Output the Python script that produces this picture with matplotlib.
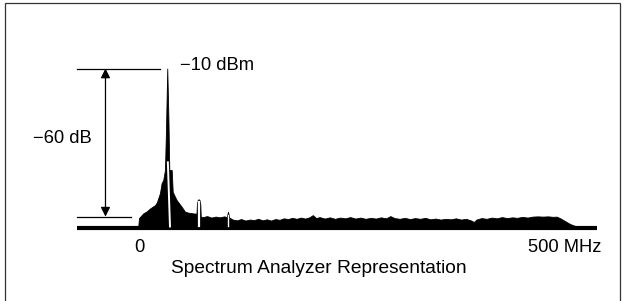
import matplotlib
matplotlib.use("Agg")
from matplotlib import pyplot as plt
from matplotlib.patches import Rectangle

plt.rcParams['font.family'] = ['Liberation Sans Narrow', 'Liberation Sans', 'DejaVu Sans']

# spectrum trace (MHz, dBm)
freq = [-0.8, 0, 5, 9, 13, 16, 19, 21, 22.7, 24.6, 26.6, 28.5, 30.5, 31.7, 33.2, 34.6, 35.6,
        38.4, 39.6, 44.2, 50.1, 54, 58, 63.7, 67.5, 68, 69, 70, 71, 72, 72.5,
        75, 80, 85, 90, 95, 100, 103, 104.5, 106, 110, 115, 120, 125, 130, 135, 140,
        145, 150, 155, 160, 165, 170, 175, 180, 185, 190, 195, 200, 204, 208, 212,
        218, 224, 230, 236, 242, 248, 254, 260, 266, 272, 278, 284, 290, 295, 300,
        306, 312, 318, 324, 330, 336, 342, 348, 354, 360, 366, 372, 378, 384, 390,
        393, 396, 402, 408, 414, 420, 426, 432, 438, 444, 450, 456, 462, 468, 474,
        480, 486, 490, 494, 500, 506, 512]
level = [-74.0, -70.6, -68.7, -67.9, -66.7, -66.0, -65.3, -64.2, -62.5, -60.5, -56.4,
         -55.2, -51.1, -34.9, -10.0, -30.9, -51.1,
         -51.1, -60.0, -63.3, -66.0, -68.0, -68.4, -68.7, -68.8, -65.0, -63.2, -63.0,
         -63.2, -65.0, -70.0,
         -70.2, -69.8, -70.4, -70.0, -70.3, -69.9, -70.2, -68.0, -70.4, -71.2, -71.5,
         -71.0, -71.6, -71.2, -71.4, -70.9, -71.5, -71.1, -71.6, -71.0, -71.3, -70.7,
         -71.0, -70.5, -70.9, -70.4, -70.8, -70.3, -69.4, -70.6, -70.2,
         -70.8, -70.3, -70.9, -70.4, -70.7, -70.2, -70.8, -70.4, -70.9, -70.5, -70.8,
         -70.3, -70.7, -69.8, -70.6, -70.9, -70.5, -71.0, -70.6, -70.9, -70.5, -71.1,
         -70.8, -71.2, -70.9, -71.1, -70.7, -71.2, -70.9, -71.6, -72.2, -71.2, -70.6,
         -70.9, -70.4, -70.7, -70.2, -70.6, -70.3, -70.5, -70.1, -70.4, -70.0, -69.9,
         -70.0, -69.9, -70.1, -70.0, -70.6, -71.8, -73.0, -73.8]

baseline = -74.3
carrier_dbm = -10
floor_dbm = -70

fig = plt.figure(figsize=(6.26, 3.01), dpi=100)
ax = fig.add_axes([0, 0, 1, 1])
ax.set_xlim(-163.1, 571.6)
ax.set_ylim(-104.2, 17.77)
ax.axis('off')

# frame
fig.patches.append(Rectangle((5 / 626, -0.02), 615 / 626, 1.011, transform=fig.transFigure,
                             fill=False, edgecolor='#333333', linewidth=0.9))

ax.fill_between(freq, baseline, level, color='black', linewidth=0.6, edgecolor='black')
ax.plot([-73, 537], [-74.5, -74.5], color='black', linewidth=3.0, solid_capstyle='butt')

# white gaps in the trace
ax.plot([33.9, 36.4], [-48, -74], color='white', linewidth=1.4)
ax.plot([70, 70], [-74, -64.2], color='white', linewidth=1.6)
ax.plot([104.5, 104.5], [-74, -69.2], color='white', linewidth=1.0)

# reference lines and arrow
ax.plot([-72.8, 24.6], [carrier_dbm, carrier_dbm], color='black', linewidth=0.9)
ax.plot([-72.8, -9.7], [floor_dbm, floor_dbm], color='black', linewidth=0.9)
ax.annotate('', xy=(-39.3, carrier_dbm), xytext=(-39.3, floor_dbm),
            arrowprops=dict(arrowstyle='<|-|>', color='black', lw=0.9,
                            mutation_scale=14, shrinkA=0, shrinkB=0))

ax.text(-124.4, -38.2, '\u221260 dB', fontsize=13.2, ha='left', va='center')
ax.text(48.1, -8.6, '\u221210 dBm', fontsize=13.2, ha='left', va='center')
ax.text(0, -82.4, '0', fontsize=13.2, ha='center', va='center')
ax.text(500, -82.4, '500 MHz', fontsize=13.2, ha='center', va='center')
ax.text(211, -90.9, 'Spectrum Analyzer Representation', fontsize=13.8,
        ha='center', va='center')

fig.savefig('out.png', dpi=100)
